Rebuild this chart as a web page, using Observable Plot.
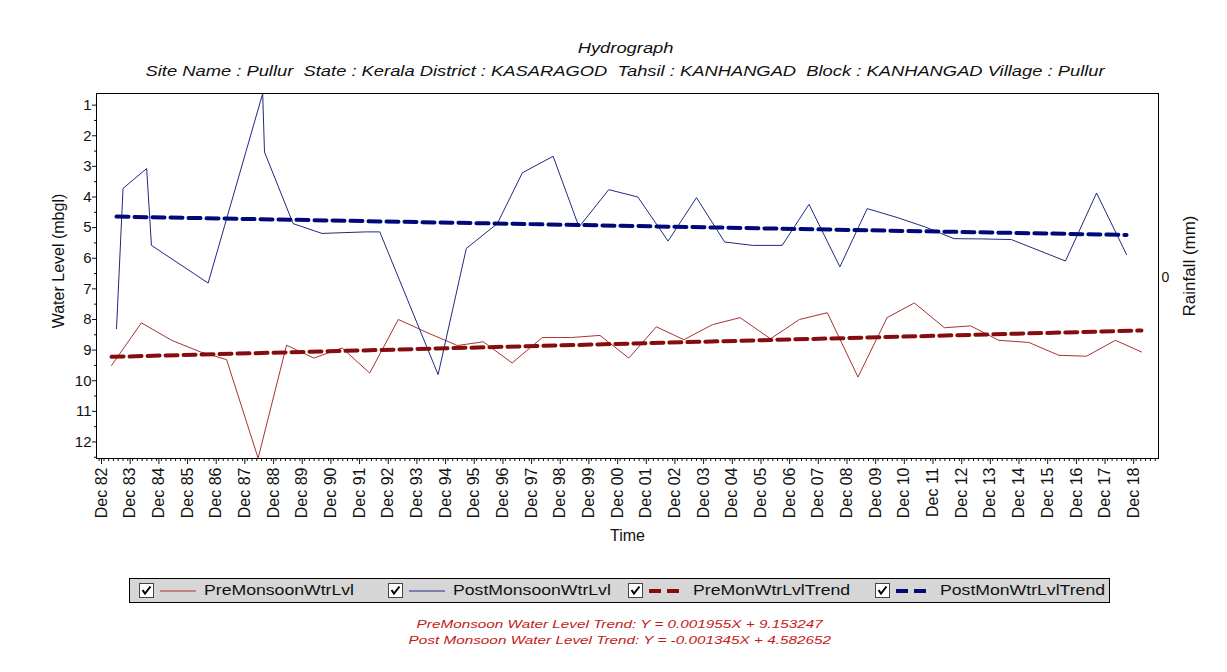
<!DOCTYPE html>
<html><head><meta charset="utf-8">
<script src="https://cdn.jsdelivr.net/npm/d3@7"></script>
<script src="https://cdn.jsdelivr.net/npm/@observablehq/plot@0.6"></script>
<style>
body{margin:0;background:#fff;font-family:"Liberation Sans",Arial,sans-serif;width:1227px;height:672px;overflow:hidden;position:relative}
#chart{position:absolute;left:0;top:0}
.tl{position:absolute;left:12px;width:1227px;text-align:center;font-style:italic;font-size:14px;color:#111;white-space:nowrap}
.tl span{display:inline-block;transform:scaleX(1.31);transform-origin:center}
#legend{position:absolute;left:129px;top:578px;width:979px;height:23px;background:#d6d6d6;border:1px solid #000;font-size:14px;color:#111}
.item{position:absolute;top:0;height:23px;display:flex;align-items:center}
.cb{width:13px;height:13px;background:#fff;border:1px solid #444;margin-right:6px}
.sample{width:36px;height:8px}
.lbl{position:absolute;top:3px;white-space:nowrap;transform:scaleX(1.26);transform-origin:left}
#trend{position:absolute;left:6px;top:616px;width:1227px;text-align:center;font-style:italic;font-size:11.5px;line-height:16px;color:#c41a1a}
#trend span{display:inline-block;transform:scaleX(1.33);transform-origin:center}
</style></head>
<body>
<div id="chart"></div>
<div class="tl" style="top:40px"><span>Hydrograph</span></div>
<div class="tl" style="top:63px"><span>Site Name : Pullur&nbsp; State : Kerala District : KASARAGOD&nbsp; Tahsil : KANHANGAD&nbsp; Block : KANHANGAD Village : Pullur</span></div>
<div id="legend"></div>
<div id="trend"><span>PreMonsoon Water Level Trend: Y = 0.001955X + 9.153247</span><br><span>Post Monsoon Water Level Trend: Y = -0.001345X + 4.582652</span></div>
<script>
// Pre-monsoon water level (mbgl)
const preDates = ["1983-04-08","1984-04-22","1985-05-12","1986-05-15","1987-04-12","1988-05-18","1989-05-15","1990-04-27","1991-04-23","1992-04-08","1993-04-08","1994-04-20","1995-05-01","1996-03-25","1997-03-28","1998-04-15","1999-04-20","2000-04-20","2001-04-22","2002-04-08","2003-03-25","2004-03-22","2005-03-10","2006-04-01","2007-04-05","2008-03-25","2009-04-20","2010-04-25","2011-04-08","2012-04-25","2013-03-25","2014-03-18","2015-04-05","2016-04-22","2017-04-08","2018-04-12","2019-03-10"];
const preLevels = [9.50,8.11,8.68,9.06,9.31,12.53,8.84,9.26,8.93,9.75,8.00,8.44,8.85,8.73,9.42,8.59,8.59,8.52,9.26,8.24,8.66,8.17,7.94,8.63,8.00,7.78,9.88,7.94,7.46,8.27,8.21,8.68,8.75,9.17,9.20,8.68,9.06];
// Post-monsoon water level (mbgl)
const postDates = ["1983-06-10","1983-09-01","1984-06-28","1984-08-28","1986-08-20","1988-07-15","1988-08-07","1989-08-07","1990-08-10","1992-02-14","1992-08-15","1994-08-28","1995-08-22","1996-09-20","1997-08-05","1998-09-01","1999-07-28","2000-08-10","2001-08-15","2002-09-05","2003-09-01","2004-08-25","2005-08-18","2006-08-28","2007-08-05","2008-09-01","2009-08-15","2010-09-01","2011-08-25","2012-08-25","2013-08-25","2014-08-25","2015-08-25","2016-07-15","2017-08-15","2018-09-01"];
const postLevels = [8.30,3.72,3.07,5.58,6.81,0.62,2.53,4.87,5.19,5.14,5.14,9.80,5.68,4.87,3.21,2.67,4.98,3.76,4.00,5.44,4.02,5.47,5.58,5.58,4.24,6.28,4.38,4.67,4.98,5.36,5.37,5.39,5.76,6.09,3.87,5.88];
// Trend lines (end points)
const preTrendDates = ["1983-04-08","2019-03-10"];
const preTrendLevels = [9.22,8.36];
const postTrendDates = ["1983-06-10","2018-09-01"];
const postTrendLevels = [4.64,5.24];
// Axis ticks
const yTicks = [1,2,3,4,5,6,7,8,9,10,11,12];
const tickYears = d3.range(1982, 2019);
const tickLabels = tickYears.map(y => "Dec " + String(y % 100).padStart(2, "0"));

const toRows = (ds, vs) => ds.map((d, i) => ({date: new Date(d), level: vs[i]}));
const pre = toRows(preDates, preLevels);
const post = toRows(postDates, postLevels);
const preTrend = toRows(preTrendDates, preTrendLevels);
const postTrend = toRows(postTrendDates, postTrendLevels);
const xMajor = tickYears.map(y => new Date(Date.UTC(y, 11, 1)));
const labelOf = new Map(xMajor.map((d, i) => [+d, tickLabels[i]]));
const xDomain = [new Date("1982-09-28"), new Date("2019-10-13")];
const xMinor = d3.utcMonth.every(2).range(new Date("1982-10-01"), xDomain[1]).filter(d => d.getUTCMonth() !== 11);
const yMinor = d3.range(1, 12.6, 0.5).filter(v => !Number.isInteger(v));

const H = 560;
const chart = Plot.plot({
  width: 1227, height: H,
  marginLeft: 96, marginRight: 69, marginTop: 93, marginBottom: H - 458,
  x: {type: "utc", domain: xDomain},
  y: {domain: [0.62, 12.54], reverse: true},
  style: {fontFamily: "'Liberation Sans', Arial, sans-serif", fontSize: "14px", background: "transparent", color: "#111"},
  marks: [
    Plot.axisY({ticks: yTicks, tickSize: 4, tickPadding: 1, fontSize: 15, label: null}),
    Plot.axisY({ticks: yMinor, tickSize: 2, text: null, label: null}),
    Plot.axisX({ticks: xMajor, tickSize: 6, tickPadding: 3, tickRotate: -90, fontSize: 16, tickFormat: d => labelOf.get(+d), label: null}),
    Plot.axisX({ticks: xMinor, tickSize: 3, text: null, label: null}),
    Plot.line(pre, {x: "date", y: "level", stroke: "#a83232", strokeWidth: 1}),
    Plot.line(post, {x: "date", y: "level", stroke: "#1f2a80", strokeWidth: 1}),
    Plot.line(preTrend, {x: "date", y: "level", stroke: "#850d0d", strokeWidth: 4, strokeDasharray: "12,6"}),
    Plot.line(postTrend, {x: "date", y: "level", stroke: "#00087a", strokeWidth: 4, strokeDasharray: "12,6"}),
    Plot.frame({stroke: "#000", strokeWidth: 1}),
    Plot.text(["Water Level (mbgl)"], {frameAnchor: "left", textAnchor: "middle", dx: -38, dy: -15, rotate: -90, fontSize: 16}),
    Plot.text(["Rainfall (mm)"], {frameAnchor: "right", textAnchor: "middle", dx: 31, dy: -10, rotate: -90, fontSize: 17}),
    Plot.text(["0"], {frameAnchor: "right", dx: 3, dy: 2, textAnchor: "start", fontSize: 14}),
    Plot.text(["Time"], {frameAnchor: "bottom", dy: 82, fontSize: 16})
  ]
});
document.getElementById("chart").appendChild(chart);

// Legend
const legendItems = [
  {label: "PreMonsoonWtrLvl", color: "#a83232", width: 1, dash: null, left: 9},
  {label: "PostMonsoonWtrLvl", color: "#1f2a80", width: 1, dash: null, left: 258},
  {label: "PreMonWtrLvlTrend", color: "#850d0d", width: 4, dash: "12,6", left: 498},
  {label: "PostMonWtrLvlTrend", color: "#00087a", width: 4, dash: "12,6", left: 745}
];
const lg = document.getElementById("legend");
for (const it of legendItems) {
  const div = document.createElement("div");
  div.className = "item";
  div.style.left = it.left + "px";
  div.innerHTML = `<div class="cb"><svg width="13" height="13"><path d="M2.5 6 L5 9.5 L10.5 2.5" fill="none" stroke="#000" stroke-width="2"/></svg></div>` +
    `<svg class="sample" width="36" height="8"><line x1="0" x2="36" y1="4" y2="4" stroke="${it.color}" stroke-width="${it.width}" ${it.dash ? `stroke-dasharray="${it.dash}"` : ""}/></svg>` +
    `<span class="lbl" style="left:65px">${it.label}</span>`;
  lg.appendChild(div);
}
</script>
</body></html>
